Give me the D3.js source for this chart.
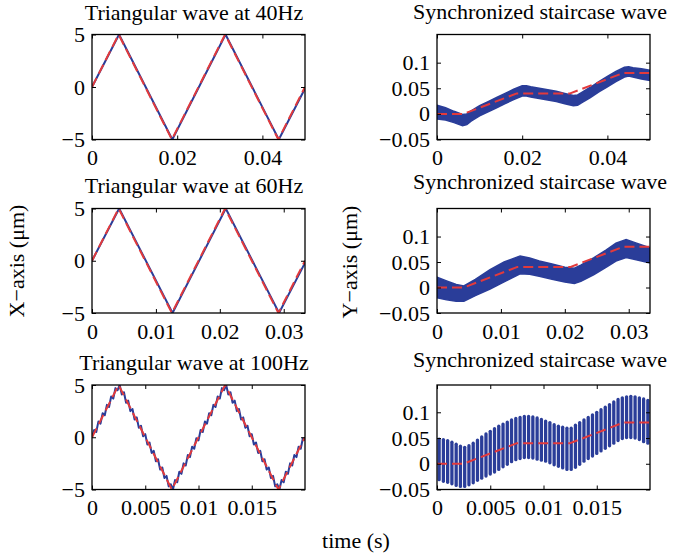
<!DOCTYPE html>
<html>
<head>
<meta charset="utf-8">
<script src="https://cdn.jsdelivr.net/npm/d3@7"></script>
<style>
  body { margin: 0; background: #fff; }
</style>
</head>
<body>
<div id="fig"></div>
<script>
// ---- data (all times in ms) ----
// triangular reference (red dashed) and measured output (blue)
const triT40 = [0, 6.25, 18.75, 31.25, 43.75, 50];
const triRef40 = [0, 5, -5, 5, -5, 0];
const triOutT40 = [0, 6.35, 18.85, 31.35, 43.85, 50];
const triOut40 = [0, 5, -5, 5, -5, -0.15];

const triT60 = [0, 4.17, 12.5, 20.83, 29.17, 33.33];
const triRef60 = [0, 5, -5, 5, -5, 0];
const triOutT60 = [0, 4.25, 12.6, 20.93, 29.27, 33.33];
const triOut60 = [0, 5, -5, 5, -5, -0.2];

const triT100 = [0, 2.5, 7.5, 12.5, 17.5, 20];
const triRef100 = [0, 5, -5, 5, -5, 0];
const t100 = [0,0.2,0.4,0.6,0.8,1,1.2,1.4,1.6,1.8,
              2,2.2,2.4,2.6,2.8,3,3.2,3.4,3.6,3.8,
              4,4.2,4.4,4.6,4.8,5,5.2,5.4,5.6,5.8,
              6,6.2,6.4,6.6,6.8,7,7.2,7.4,7.6,7.8,
              8,8.2,8.4,8.6,8.8,9,9.2,9.4,9.6,9.8,
              10,10.2,10.4,10.6,10.8,11,11.2,11.4,11.6,11.8,
              12,12.2,12.4,12.6,12.8,13,13.2,13.4,13.6,13.8,
              14,14.2,14.4,14.6,14.8,15,15.2,15.4,15.6,15.8,
              16,16.2,16.4,16.6,16.8,17,17.2,17.4,17.6,17.8,
              18,18.2,18.4,18.6,18.8,19,19.2,19.4,19.6,19.8,
              20];
const triOut100 = [0,0.7,0.5,1.5,1.3,2.3,2.1,3.1,2.9,3.9,
                   3.7,4.7,4.5,5.0,4.1,4.3,3.3,3.5,2.5,2.7,
                   1.7,1.9,0.9,1.1,0.1,0.3,-0.7,-0.5,-1.5,-1.3,
                   -2.3,-2.1,-3.1,-2.9,-3.9,-3.7,-4.7,-4.5,-5.0,-4.1,
                   -4.3,-3.3,-3.5,-2.5,-2.7,-1.7,-1.9,-0.9,-1.1,-0.1,
                   -0.3,0.7,0.5,1.5,1.3,2.3,2.1,3.1,2.9,3.9,
                   3.7,4.7,4.5,5.0,4.1,4.3,3.3,3.5,2.5,2.7,
                   1.7,1.9,0.9,1.1,0.1,0.3,-0.7,-0.5,-1.5,-1.3,
                   -2.3,-2.1,-3.1,-2.9,-3.9,-3.7,-4.7,-4.5,-5.0,-4.1,
                   -4.3,-3.3,-3.5,-2.5,-2.7,-1.7,-1.9,-0.9,-1.1,-0.1,
                   -0.3];

// staircase reference (red dashed)
const stairT40 = [0, 6.25, 18.75, 31.25, 43.75, 50];
const stairRef40 = [0, 0, 0.04, 0.04, 0.08, 0.08];
const stairT60 = [0, 4.17, 12.5, 20.83, 29.17, 33.33];
const stairRef60 = [0, 0, 0.04, 0.04, 0.08, 0.08];
const stairT100 = [0, 2.5, 7.5, 12.5, 17.5, 20];
const stairRef100 = [0, 0, 0.04, 0.04, 0.08, 0.08];

// staircase output, band envelopes (blue)
const bandT40 = [0,2,4,6,7,8,10,12,14,16,18,20,21,22,24,26,28,30,32,33,34,36,38,40,42,44,45,46,48,50];
const bandHi40 = [0.017,0.012,0.005,-0.001,0.000,0.006,0.016,0.024,0.032,0.040,0.048,0.055,0.055,0.053,0.050,
                  0.047,0.044,0.040,0.036,0.037,0.042,0.052,0.063,0.073,0.083,0.091,0.092,0.090,0.088,0.085];
const bandLo40 = [-0.010,-0.012,-0.017,-0.023,-0.021,-0.014,-0.004,0.004,0.012,0.020,0.028,0.035,0.035,0.033,0.030,
                  0.027,0.024,0.020,0.016,0.017,0.022,0.032,0.043,0.053,0.063,0.072,0.074,0.072,0.068,0.065];

const bandT60 = [0,1.5,3,4.2,6,8.3,10.5,13,14.5,16,18,20,21.5,22.5,24.5,26.5,28,29.6,31,33.33];
const bandHi60 = [0.020,0.013,0.006,0.003,0.016,0.035,0.050,0.062,0.058,0.052,
                  0.046,0.040,0.038,0.044,0.058,0.074,0.087,0.094,0.088,0.078];
const bandLo60 = [-0.020,-0.024,-0.027,-0.027,-0.016,-0.003,0.011,0.027,0.026,0.022,
                  0.016,0.011,0.008,0.012,0.025,0.040,0.052,0.059,0.055,0.048];

// staircase output at 100Hz, one max/min pair per oscillation cycle
const cycT100 = [0.2,0.6,1,1.4,1.8,2.2,2.6,3,3.4,3.8,
                 4.2,4.6,5,5.4,5.8,6.2,6.6,7,7.4,7.8,
                 8.2,8.6,9,9.4,9.8,10.2,10.6,11,11.4,11.8,
                 12.2,12.6,13,13.4,13.8,14.2,14.6,15,15.4,15.8,
                 16.2,16.6,17,17.4,17.8,18.2,18.6,19,19.4,19.8];
const cycHi100 = [0.048,0.047,0.045,0.042,0.038,0.034,0.032,0.035,0.040,0.046,
                  0.052,0.058,0.063,0.068,0.073,0.077,0.081,0.085,0.088,0.090,
                  0.092,0.092,0.091,0.089,0.086,0.083,0.080,0.076,0.073,0.071,
                  0.069,0.069,0.075,0.080,0.085,0.090,0.095,0.100,0.105,0.110,
                  0.115,0.120,0.125,0.128,0.130,0.131,0.130,0.128,0.126,0.123];
const cycLo100 = [-0.031,-0.034,-0.036,-0.039,-0.042,-0.044,-0.044,-0.041,-0.037,-0.032,
                  -0.028,-0.024,-0.020,-0.016,-0.011,-0.006,-0.001,0.004,0.008,0.010,
                  0.012,0.012,0.011,0.009,0.007,0.005,0.002,-0.002,-0.005,-0.008,
                  -0.011,-0.011,-0.007,-0.001,0.005,0.010,0.015,0.020,0.025,0.030,
                  0.035,0.040,0.045,0.049,0.051,0.051,0.050,0.047,0.043,0.040];

// ticks
const xTicks40 = [0, 20, 40], xLabels40 = ["0", "0.02", "0.04"];
const xTicks60 = [0, 10, 20, 30], xLabels60 = ["0", "0.01", "0.02", "0.03"];
const xTicks100 = [0, 5, 10, 15], xLabels100 = ["0", "0.005", "0.01", "0.015"];
const yTicksL = [-5, 0, 5], yLabelsL = ["\u22125", "0", "5"];
const yTicksR = [-0.05, 0, 0.05, 0.1], yLabelsR = ["\u22120.05", "0", "0.05", "0.1"];

// ---- drawing ----
const W = 676, H = 560;
const FONT = "'Liberation Serif', 'Times New Roman', Times, serif";
const FS = 22;
const BLUE = "#2a3d99", RED = "#e23a3c";

const svg = d3.select("#fig").append("svg")
    .attr("width", W).attr("height", H)
    .style("font-family", FONT);
const plotLayer = svg.append("g");
const axisLayer = svg.append("g");

function makePanel(id, box, xDom, yDom, xTicks, xLabels, yTicks, yLabels, title, titleX, titleY) {
  var x = d3.scaleLinear().domain(xDom).range([box.left, box.right]);
  var y = d3.scaleLinear().domain(yDom).range([box.bottom, box.top]);

  svg.append("clipPath").attr("id", id)
    .append("rect")
      .attr("x", box.left).attr("y", box.top)
      .attr("width", box.right - box.left).attr("height", box.bottom - box.top);
  var g = plotLayer.append("g").attr("clip-path", "url(#" + id + ")");

  var ax = axisLayer.append("g");
  ax.append("g")
      .attr("transform", "translate(0," + box.bottom + ")")
      .call(d3.axisBottom(x).tickValues(xTicks).tickFormat(function(d, i) { return xLabels[i]; })
              .tickSizeInner(-4).tickSizeOuter(0).tickPadding(10));
  ax.append("g")
      .attr("transform", "translate(0," + box.top + ")")
      .call(d3.axisTop(x).tickValues(xTicks).tickFormat("")
              .tickSizeInner(-4).tickSizeOuter(0));
  ax.append("g")
      .attr("transform", "translate(" + box.left + ",0)")
      .call(d3.axisLeft(y).tickValues(yTicks).tickFormat(function(d, i) { return yLabels[i]; })
              .tickSizeInner(-4).tickSizeOuter(0).tickPadding(7));
  ax.append("g")
      .attr("transform", "translate(" + box.right + ",0)")
      .call(d3.axisRight(y).tickValues(yTicks).tickFormat("")
              .tickSizeInner(-4).tickSizeOuter(0));
  ax.selectAll(".domain").remove();
  ax.selectAll("g").attr("font-family", FONT).attr("font-size", FS);
  ax.selectAll(".tick line").attr("stroke", "#000").attr("stroke-width", 1);
  ax.selectAll(".tick text").attr("fill", "#000");

  ax.append("rect")
      .attr("x", box.left).attr("y", box.top)
      .attr("width", box.right - box.left).attr("height", box.bottom - box.top)
      .attr("fill", "none").attr("stroke", "#000").attr("stroke-width", 1.3);

  ax.append("text")
      .attr("x", titleX).attr("y", titleY)
      .attr("text-anchor", "middle")
      .attr("font-size", FS)
      .text(title);

  return { g: g, x: x, y: y };
}

function drawLine(p, ts, vs, colour, width, dash) {
  var line = d3.line()
      .x(function(d, i) { return p.x(ts[i]); })
      .y(function(d) { return p.y(d); });
  p.g.append("path")
      .datum(vs)
      .attr("d", line)
      .attr("fill", "none")
      .attr("stroke", colour)
      .attr("stroke-width", width)
      .attr("stroke-linejoin", "round")
      .attr("stroke-dasharray", dash || null);
}

function drawBand(p, ts, hi, lo) {
  var area = d3.area()
      .x(function(d, i) { return p.x(ts[i]); })
      .y0(function(d, i) { return p.y(lo[i]); })
      .y1(function(d) { return p.y(d); });
  p.g.append("path")
      .datum(hi)
      .attr("d", area)
      .attr("fill", BLUE)
      .attr("stroke", BLUE)
      .attr("stroke-width", 1.5);
}

function drawCycles(p, ts, hi, lo) {
  p.g.append("g")
    .selectAll("line")
    .data(ts)
    .enter()
    .append("line")
      .attr("x1", function(d) { return p.x(d); })
      .attr("x2", function(d) { return p.x(d); })
      .attr("y1", function(d, i) { return p.y(lo[i]); })
      .attr("y2", function(d, i) { return p.y(hi[i]); })
      .attr("stroke", BLUE)
      .attr("stroke-width", 3.3)
      .attr("stroke-linecap", "round");
}

const colL = { left: 92, right: 305 };
const colR = { left: 437, right: 650 };
const rows = [{ top: 34.5, bottom: 139.5 }, { top: 208.5, bottom: 313 }, { top: 385, bottom: 489.5 }];
function box(col, row) { return { left: col.left, right: col.right, top: row.top, bottom: row.bottom }; }
const DASH = "10,5";
const TITLE_XL = 194, TITLE_XR = 540;

// left column: triangular waves
var p = makePanel("c1", box(colL, rows[0]), [0, 50], [-5, 5], xTicks40, xLabels40, yTicksL, yLabelsL,
                  "Triangular wave at 40Hz", TITLE_XL, 20);
drawLine(p, triOutT40, triOut40, BLUE, 2);
drawLine(p, triT40, triRef40, RED, 2, DASH);

p = makePanel("c2", box(colL, rows[1]), [0, 33.33], [-5, 5], xTicks60, xLabels60, yTicksL, yLabelsL,
              "Triangular wave at 60Hz", TITLE_XL, 193);
drawLine(p, triOutT60, triOut60, BLUE, 2);
drawLine(p, triT60, triRef60, RED, 2, DASH);

p = makePanel("c3", box(colL, rows[2]), [0, 20], [-5, 5], xTicks100, xLabels100, yTicksL, yLabelsL,
              "Triangular wave at 100Hz", TITLE_XL, 370);
drawLine(p, t100, triOut100, BLUE, 2);
drawLine(p, triT100, triRef100, RED, 2, DASH);

// right column: staircase waves
p = makePanel("c4", box(colR, rows[0]), [0, 50], [-0.05, 0.155], xTicks40, xLabels40, yTicksR, yLabelsR,
              "Synchronized staircase wave", TITLE_XR, 19);
drawBand(p, bandT40, bandHi40, bandLo40);
drawLine(p, stairT40, stairRef40, RED, 2, DASH);

p = makePanel("c5", box(colR, rows[1]), [0, 33.33], [-0.05, 0.155], xTicks60, xLabels60, yTicksR, yLabelsR,
              "Synchronized staircase wave", TITLE_XR, 189);
drawBand(p, bandT60, bandHi60, bandLo60);
drawLine(p, stairT60, stairRef60, RED, 2, DASH);

p = makePanel("c6", box(colR, rows[2]), [0, 20], [-0.05, 0.153], xTicks100, xLabels100, yTicksR, yLabelsR,
              "Synchronized staircase wave", TITLE_XR, 367);
drawCycles(p, cycT100, cycHi100, cycLo100);
drawLine(p, stairT100, stairRef100, RED, 2, DASH);

// shared labels
svg.append("text")
    .attr("transform", "translate(24,261) rotate(-90)")
    .attr("text-anchor", "middle").attr("font-size", FS)
    .text("X\u2212axis (\u03bcm)");
svg.append("text")
    .attr("transform", "translate(357,262) rotate(-90)")
    .attr("text-anchor", "middle").attr("font-size", FS)
    .text("Y\u2212axis (\u03bcm)");
svg.append("text")
    .attr("x", 356).attr("y", 548)
    .attr("text-anchor", "middle").attr("font-size", FS)
    .text("time (s)");
</script>
</body>
</html>
